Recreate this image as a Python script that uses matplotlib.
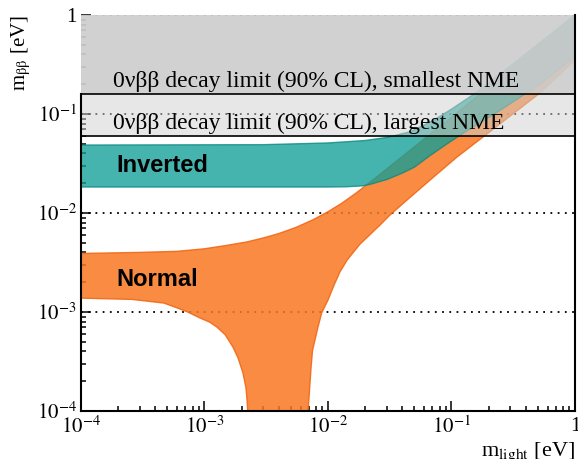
import math
import matplotlib
matplotlib.use('Agg')
import matplotlib.pyplot as plt
from matplotlib.ticker import FuncFormatter, LogLocator, NullFormatter

plt.rcParams['font.family'] = ['Liberation Serif', 'DejaVu Serif']
plt.rcParams['mathtext.fontset'] = 'stix'

# Normal ordering band: upper edge, then lower edge (the lobe drops below the axis)
no_upper_x = [1e-4, 3e-4, 6e-4, 1e-3, 1.5e-3, 2.2e-3, 3e-3, 4e-3, 5.5e-3, 7.5e-3,
              1e-2, 1.3e-2, 1.7e-2, 2.5e-2, 5e-2, 0.1, 0.3, 1.0]
no_upper_y = [3.9e-3, 4.0e-3, 4.1e-3, 4.35e-3, 4.7e-3, 5.1e-3, 5.6e-3, 6.2e-3, 7.15e-3, 8.5e-3,
              1.03e-2, 1.26e-2, 1.6e-2, 2.33e-2, 4.65e-2, 9.3e-2, 0.28, 0.93]
no_lower_x = [1e-4, 2.6e-4, 4.7e-4, 6e-4, 7.3e-4, 9.2e-4, 1.1e-3, 1.26e-3, 1.47e-3, 1.7e-3,
              1.87e-3, 2.05e-3, 2.17e-3, 2.21e-3, 2.24e-3, 2.26e-3,
              6.85e-3, 6.9e-3, 7.0e-3, 7.3e-3, 7.5e-3, 8.3e-3, 8.9e-3, 1.0e-2, 1.12e-2,
              1.25e-2, 1.43e-2, 1.82e-2, 2.64e-2, 3.18e-2, 4.36e-2, 6.7e-2, 0.111, 0.18,
              0.52, 1.0]
no_lower_y = [1.38e-3, 1.34e-3, 1.23e-3, 1.1e-3, 1.0e-3, 8.7e-4, 7.9e-4, 7.05e-4, 5.9e-4, 4.43e-4,
              3.43e-4, 2.42e-4, 1.7e-4, 1.29e-4, 1e-4, 5e-5,
              5e-5, 1e-4, 1.29e-4, 2.78e-4, 4.1e-4, 7.05e-4, 9.8e-4, 1.32e-3, 1.87e-3,
              2.54e-3, 3.35e-3, 4.86e-3, 7.56e-3, 9.55e-3, 1.35e-2, 2.15e-2, 3.68e-2, 5.86e-2,
              0.163, 0.35]

# Inverted ordering band
io_upper_x = [1e-4, 3e-3, 1e-2, 2e-2, 3e-2, 4.6e-2, 7e-2, 0.1, 0.15, 0.25, 0.5, 1.0]
io_upper_y = [4.86e-2, 4.9e-2, 5.1e-2, 5.4e-2, 5.8e-2, 6.6e-2, 8.5e-2, 0.112, 0.157, 0.255, 0.505, 1.0]
io_lower_x = [1e-4, 1e-2, 1.4e-2, 1.9e-2, 2.2e-2, 3e-2, 4e-2, 5e-2, 6.7e-2, 9e-2, 0.124,
              0.18, 0.25, 0.52, 1.0]
io_lower_y = [1.83e-2, 1.83e-2, 1.84e-2, 1.88e-2, 1.95e-2, 2.18e-2, 2.53e-2, 2.9e-2, 3.8e-2,
              4.9e-2, 6.4e-2, 8.5e-2, 0.11, 0.2, 0.38]

# 0vbb limits on m_bb for the two NME extremes
limit_small_nme = 0.16
limit_large_nme = 0.06
dotted_levels = [1e-3, 1e-2, 1e-1, 1.0]

fig = plt.figure(figsize=(5.78, 4.59), dpi=100)
ax = fig.add_axes([0.1401, 0.1046, 0.8547, 0.8627])
ax.set_xscale('log')
ax.set_yscale('log')
ax.set_xlim(1e-4, 1)
ax.set_ylim(1e-4, 1)
ax.set_axisbelow(True)

for lev in dotted_levels:
    ax.axhline(lev, color='black', lw=1.3, ls=(0, (1, 3)), zorder=1)

ax.fill(no_upper_x + no_lower_x[::-1], no_upper_y + no_lower_y[::-1],
        facecolor='#f97821', edgecolor='#f06410', lw=1.0, alpha=0.85, zorder=2)
ax.fill(io_upper_x + io_lower_x[::-1], io_upper_y + io_lower_y[::-1],
        facecolor='#109f97', edgecolor='#0a8880', lw=1.0, alpha=0.78, zorder=3)

ax.axhspan(limit_small_nme, 1.0, color='#cdcdcd', alpha=0.92, lw=0, zorder=4)
ax.axhspan(limit_large_nme, limit_small_nme, color='#d0d0d0', alpha=0.5, lw=0, zorder=4)
ax.axhline(limit_small_nme, color='black', lw=1.2, zorder=5)
ax.axhline(limit_large_nme, color='black', lw=1.2, zorder=5)

ax.text(1.8e-4, 0.168, '0νββ decay limit (90% CL), smallest NME',
        fontsize=17, va='bottom', ha='left', zorder=6)
ax.text(1.8e-4, 0.0625, '0νββ decay limit (90% CL), largest NME',
        fontsize=17, va='bottom', ha='left', zorder=6)
ax.text(1.92e-4, 0.0305, 'Inverted', family='Liberation Sans', weight='bold',
        fontsize=17, va='center', ha='left', zorder=6)
ax.text(1.92e-4, 2.15e-3, 'Normal', family='Liberation Sans', weight='bold',
        fontsize=17, va='center', ha='left', zorder=6)


def log_label(v, pos):
    if abs(v - 1.0) < 1e-9:
        return '1'
    return r'$10^{%d}$' % round(math.log10(v))


for axis in (ax.xaxis, ax.yaxis):
    axis.set_major_locator(LogLocator(base=10, numticks=10))
    axis.set_minor_locator(LogLocator(base=10, subs=range(2, 10), numticks=10))
    axis.set_major_formatter(FuncFormatter(log_label))
    axis.set_minor_formatter(NullFormatter())

ax.tick_params(which='both', direction='in', top=False, right=False,
               width=1.1, labelsize=15)
ax.tick_params(which='major', length=7)
ax.tick_params(which='minor', length=3.5)
ax.tick_params(axis='y', pad=3)
ax.tick_params(axis='x', pad=4)

ax.spines['top'].set_visible(False)
ax.spines['left'].set_bounds(1e-4, limit_small_nme)
for s in ('left', 'bottom', 'right'):
    ax.spines[s].set_linewidth(1.5)
    ax.spines[s].set_zorder(6)

ax.set_ylabel(r'm$_{\mathrm{\beta\beta}}$ [eV]', fontsize=15, loc='top')
ax.yaxis.set_label_coords(-0.097, 1.0)
ax.set_xlabel(r'm$_{\mathrm{light}}$ [eV]', fontsize=16, loc='right')
ax.xaxis.set_label_coords(1.0, -0.075)

fig.savefig('out.png', dpi=100)
